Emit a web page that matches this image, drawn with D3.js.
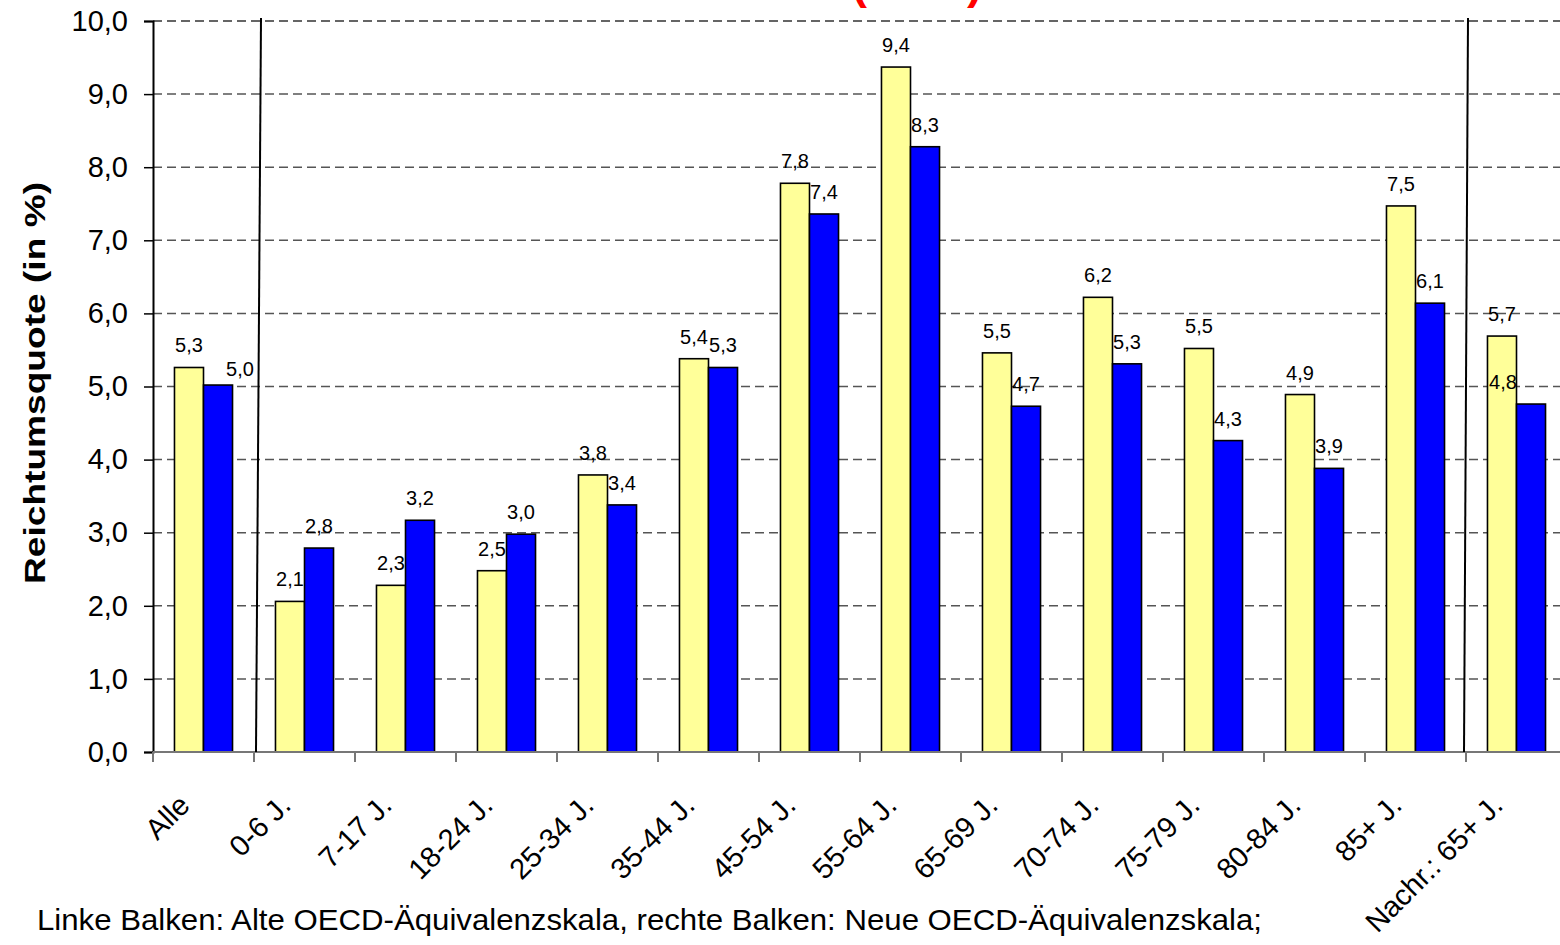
<!DOCTYPE html>
<html>
<head>
<meta charset="utf-8">
<script src="https://cdn.jsdelivr.net/npm/d3@7"></script>
<style>
  html, body { margin: 0; padding: 0; background: #fff; }
  svg { display: block; font-family: Arial, "Liberation Sans", Helvetica, sans-serif; }
</style>
</head>
<body>
<svg id="chart" width="1560" height="945"></svg>
<script>
const categories = ["Alle", "0-6 J.", "7-17 J.", "18-24 J.", "25-34 J.", "35-44 J.", "45-54 J.",
  "55-64 J.", "65-69 J.", "70-74 J.", "75-79 J.", "80-84 J.", "85+ J.", "Nachr.: 65+ J."];
const alteSkala = [5.26, 2.06, 2.28, 2.48, 3.79, 5.38, 7.78, 9.37, 5.46, 6.22, 5.52, 4.89, 7.47, 5.69];
const neueSkala = [5.02, 2.79, 3.17, 2.98, 3.38, 5.26, 7.36, 8.28, 4.73, 5.31, 4.26, 3.88, 6.14, 4.76];
const seriesNames = ["Alte OECD-Äquivalenzskala", "Neue OECD-Äquivalenzskala"];
const yTicks = [0, 1, 2, 3, 4, 5, 6, 7, 8, 9, 10];
const titleText = "Relativer Reichtum nach Alter (2003)";
const yTitle = "Reichtumsquote (in %)";
const footnote = "Linke Balken: Alte OECD-Äquivalenzskala, rechte Balken: Neue OECD-Äquivalenzskala;";

(function () {
const colors = ["#FFFF99", "#0000FF"];
const svg = d3.select("#chart");
const locale = d3.formatLocale({decimal: ",", thousands: ".", grouping: [3], currency: ["", " €"]});
const fmt = locale.format(".1f");

const pLeft = 153, pStep = 101, pTop = 21, pBottom = 752;
const x = d3.scaleBand().domain(categories).range([pLeft, pLeft + pStep * categories.length]).padding(0);
const xi = d3.scaleBand().domain([0, 1]).range([0, x.bandwidth()]).paddingInner(0).paddingOuter(0.74);
const y = d3.scaleLinear().domain([0, 10]).range([pBottom, pTop]);

// title (mostly cut off at top)
svg.append("text").attr("x", 982).attr("y", -1).attr("text-anchor", "end")
  .attr("fill", "#FF0000").attr("font-weight", "bold").attr("font-size", 45).text(titleText);

// gridlines
svg.append("g").selectAll("line").data(yTicks.filter(d => d > 0)).join("line")
  .attr("x1", pLeft).attr("x2", 1560).attr("y1", d => y(d)).attr("y2", d => y(d))
  .attr("stroke", d => d === 10 ? "#333" : "#555").attr("stroke-width", 1.5)
  .attr("stroke-dasharray", "9,5");

// y axis
const yAxis = d3.axisLeft(y).tickValues(yTicks).tickFormat(fmt).tickSize(9).tickPadding(16);
const gy = svg.append("g").attr("transform", `translate(${pLeft},0)`).call(yAxis);
gy.select(".domain").attr("stroke", "#000").attr("stroke-width", 2);
gy.selectAll(".tick line").attr("stroke", "#000").attr("stroke-width", 1.5);
gy.selectAll(".tick text").attr("font-size", 29).attr("fill", "#000")
  .attr("font-family", "Arial, 'Liberation Sans', sans-serif");

// bars
const groups = svg.append("g").selectAll("g").data(categories).join("g")
  .attr("transform", d => `translate(${x(d)},0)`);
const barData = (c, i) => [alteSkala[i], neueSkala[i]].map((v, s) => ({c, i, s, v}));
groups.selectAll("rect").data((c, i) => barData(c, i)).join("rect")
  .attr("x", d => xi(d.s)).attr("width", xi.bandwidth())
  .attr("y", d => y(d.v)).attr("height", d => y(0) - y(d.v))
  .attr("fill", d => colors[d.s]).attr("stroke", "#000").attr("stroke-width", 1.6);

// x axis
const xAxisLine = svg.append("g");
xAxisLine.append("line").attr("x1", pLeft).attr("x2", 1560).attr("y1", y(0)).attr("y2", y(0))
  .attr("stroke", "#777").attr("stroke-width", 2);
xAxisLine.selectAll("line.tk").data(d3.range(categories.length + 1)).join("line").attr("class", "tk")
  .attr("x1", i => pLeft + i * x.step()).attr("x2", i => pLeft + i * x.step())
  .attr("y1", y(0)).attr("y2", y(0) + 10).attr("stroke", "#777").attr("stroke-width", 2);

// separator lines
const seps = [{i: 1, dt: 7, db: 2}, {i: 13, dt: 2, db: -2}];
svg.append("g").selectAll("line").data(seps).join("line")
  .attr("x1", d => x(categories[d.i]) + d.dt).attr("y1", y(10) - 3)
  .attr("x2", d => x(categories[d.i]) + d.db).attr("y2", y(0))
  .attr("stroke", "#000").attr("stroke-width", 2);

// data labels
const nudge = {"0-1": [22, 6], "13-1": [-28, 0]};
groups.selectAll("text.lbl").data((c, i) => barData(c, i)).join("text").attr("class", "lbl")
  .attr("x", d => xi(d.s) + xi.bandwidth() / 2 + (nudge[d.i + "-" + d.s] || [0, 0])[0])
  .attr("y", d => y(d.v) - 15 + (nudge[d.i + "-" + d.s] || [0, 0])[1])
  .attr("text-anchor", "middle").attr("font-size", 20).attr("fill", "#000")
  .text(d => fmt(d.v));

// x labels
svg.append("g").selectAll("text").data(categories).join("text")
  .attr("transform", d => `translate(${x(d) + x.bandwidth() / 2 - 12},${y(0) + 55}) rotate(-45)`)
  .attr("text-anchor", "end").attr("font-size", 29).attr("fill", "#000").text(d => d);

// y title
svg.append("text").attr("transform", `translate(45,383) rotate(-90)`)
  .attr("text-anchor", "middle").attr("font-weight", "bold").attr("font-size", 29)
  .attr("textLength", 402).attr("lengthAdjust", "spacingAndGlyphs")
  .attr("fill", "#000").text(yTitle);

// footnote
svg.append("text").attr("x", 37).attr("y", 930).attr("font-size", 29)
  .attr("textLength", 1225).attr("lengthAdjust", "spacingAndGlyphs")
  .attr("fill", "#000").text(footnote);
})();
</script>
</body>
</html>
